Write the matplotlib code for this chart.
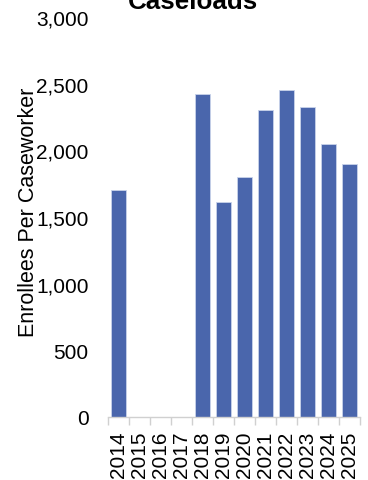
import numpy as np
import matplotlib
matplotlib.use('Agg')
import matplotlib.pyplot as plt
from matplotlib.ticker import FuncFormatter

plt.rcParams['font.family'] = ['Liberation Sans', 'DejaVu Sans']

years = ['2014', '2015', '2016', '2017', '2018', '2019', '2020',
         '2021', '2022', '2023', '2024', '2025']
# no data for 2015-2017
caseload = [1705, 0, 0, 0, 2420, 1610, 1800, 2300, 2450, 2325, 2050, 1900]

fig = plt.figure(figsize=(3.68, 4.81), dpi=100)
ax = fig.add_axes([0.2935, 0.131, 0.6845, 0.8315])

x = np.arange(len(years))
ax.bar(x, caseload, width=0.68, color='#4a66ac', edgecolor='#c9d3ea', linewidth=0.6)

ax.set_xlim(-0.5, len(years) - 0.5)
ax.set_ylim(0, 3000)
ax.set_yticks(np.arange(0, 3001, 500))
ax.yaxis.set_major_formatter(FuncFormatter(lambda v, p: f'{int(v):,}'))
ax.tick_params(axis='y', length=0, labelsize=15, pad=14)

ax.set_xticks(x)
ax.set_xticklabels(years, rotation=90, fontsize=15)
ax.tick_params(axis='x', which='major', length=0, pad=10)
ax.set_xticks(np.arange(-0.5, len(years)), minor=True)
ax.tick_params(axis='x', which='minor', length=6, color='#d0d0d0', width=1)

for s in ['top', 'right', 'left']:
    ax.spines[s].set_visible(False)
ax.spines['bottom'].set_color('#d0d0d0')
ax.spines['bottom'].set_linewidth(1)

ax.set_ylabel('Enrollees Per Caseworker', fontsize=15.5)
ax.yaxis.set_label_coords(-0.272, 0.515)

fig.text(0.524, 0.981, 'Caseloads', ha='center', va='baseline',
         fontsize=18.7, fontweight='bold')

fig.savefig('out.png', dpi=100)
